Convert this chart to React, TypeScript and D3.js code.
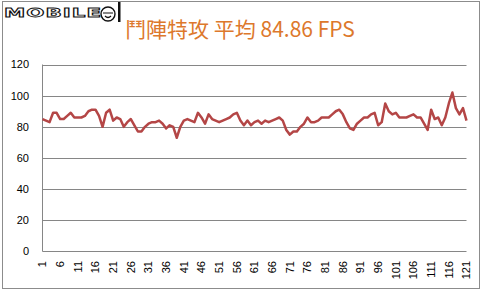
import React from 'react';
import * as d3 from 'd3';

const titleText = '鬥陣特攻 平均 84.86 FPS';
const fpsValues = [
  85, 84, 83, 89, 89, 85, 85, 87, 89, 86,
  86, 86, 87, 90, 91, 91, 87, 80, 89, 91,
  84, 86, 85, 80, 83, 85, 81, 77, 77, 80,
  82, 83, 83, 84, 82, 79, 81, 80, 73, 80,
  84, 85, 84, 83, 89, 86, 82, 88, 85, 84,
  83, 84, 85, 86, 88, 89, 84, 81, 84, 81,
  83, 84, 82, 84, 83, 84, 85, 86, 84, 78,
  75, 77, 77, 80, 82, 86, 83, 83, 84, 86,
  86, 86, 88, 90, 91, 88, 83, 79, 78, 82,
  84, 86, 86, 88, 89, 81, 83, 95, 90, 88,
  89, 86, 86, 86, 87, 88, 86, 86, 82, 78,
  91, 85, 86, 81, 86, 95, 102, 92, 88, 92,
  84,
];
const frames = fpsValues.map((_, i) => i + 1);
const yTicks = [0, 20, 40, 60, 80, 100, 120];
const xLabels = frames.filter(f => (f - 1) % 5 === 0);

const W = 483;
const H = 291;
const left = 42.5;
const right = 466.5;
const top = 64.5;
const bottom = 251.5;

const App = () => {
  const x = d3.scaleLinear().domain([1, frames.length]).range([left, right]);
  const y = d3.scaleLinear().domain([0, 120]).range([bottom, top]);
  const line = d3.line<number>()
    .x((_, i) => x(frames[i]))
    .y(d => y(d));

  return (
    <svg width={W} height={H} style={{ position: 'absolute', left: 0, top: 0, background: '#fff' }}>
      <rect x={2.5} y={1.5} width={477} height={287} fill="#fff" stroke="#8c8c8c" />

      {/* logo */}
      <g transform="translate(4,6)">
        <text x={0} y={11} fontFamily="DejaVu Sans" fontWeight="bold" fontSize={12}
          transform="scale(1.78,1)" fill="#fff" stroke="#111" strokeWidth={0.8} letterSpacing={0.6}>
          MOBILE
        </text>
        <circle cx={104} cy={8} r={7} fill="#fff" stroke="#111" strokeWidth={1.4} />
        <path d="M99,7 L109,7 M101,10 Q104,13 107,10" fill="none" stroke="#111" strokeWidth={1.2} />
        <rect x={114} y={-4} width={2.5} height={20} fill="#111" />
      </g>

      <text x={240} y={37} textAnchor="middle" fontFamily="'Noto Sans CJK TC', 'Noto Sans'"
        fontSize={21} fill="#DD782C">
        {titleText}
      </text>

      {yTicks.map(t => (
        <g key={t}>
          {t > 0 && <line x1={left} x2={right} y1={Math.round(y(t)) + 0.5} y2={Math.round(y(t)) + 0.5} stroke="#868686" />}
          <text x={29} y={y(t)} dy="0.35em" textAnchor="end" fontFamily="'Liberation Sans', Arial"
            fontSize={11} fill="#000">{t}</text>
        </g>
      ))}
      <line x1={left} x2={left} y1={top} y2={bottom} stroke="#868686" />
      <line x1={left} x2={right} y1={bottom} y2={bottom} stroke="#868686" />

      {xLabels.map(f => (
        <text key={f} transform={`translate(${x(f)},261) rotate(-90)`} textAnchor="end" dy="0.35em"
          fontFamily="'Liberation Sans', Arial" fontSize={11} fill="#000">{f}</text>
      ))}

      <path d={line(fpsValues) ?? ''} fill="none" stroke="#B44646" strokeWidth={2.5} strokeLinejoin="round" />
    </svg>
  );
};

export default App;
